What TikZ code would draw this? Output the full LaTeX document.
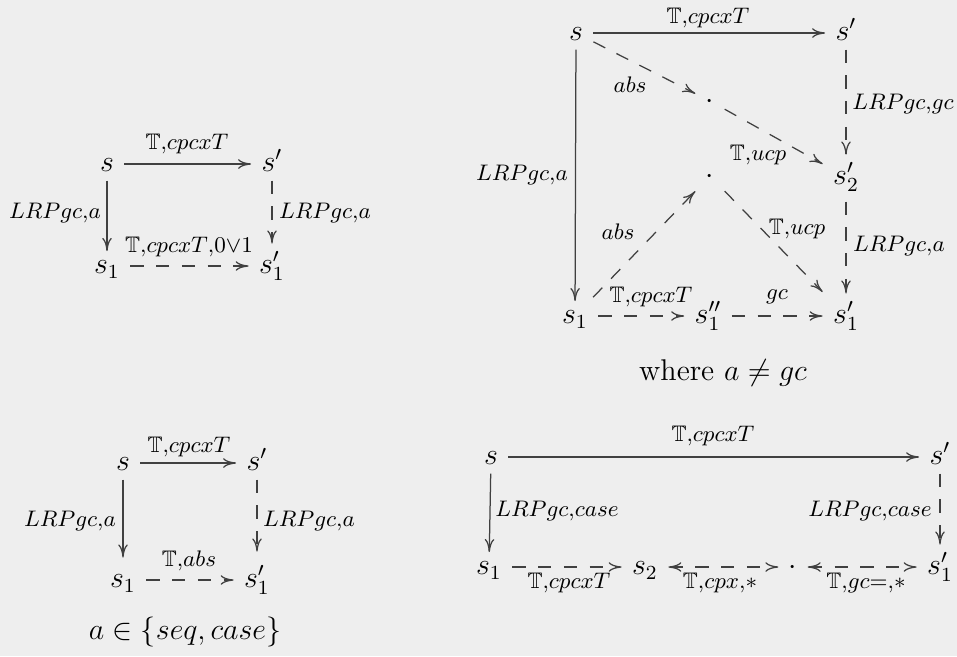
\documentclass[tikz,border=0pt]{standalone}
\usepackage{amssymb}
\usetikzlibrary{arrows.meta}
\definecolor{bg}{HTML}{EEEEEE}
\definecolor{ln}{HTML}{404040}
\begin{document}
\begin{tikzpicture}[x=0.4pt,y=-0.4pt,
  st/.style={inner sep=4pt, text height=9.6pt, text depth=3.6pt, font=\fontsize{12}{14}\selectfont},
  dt/.style={inner sep=4pt, text height=6pt, text depth=0pt, font=\fontsize{12}{14}\selectfont},
  lab/.style={inner sep=0pt, font=\fontsize{9}{11}\selectfont},
  captxt/.style={inner sep=0pt, font=\fontsize{12}{14}\selectfont},
  mytip/.tip={To[length=5.2pt,width=3.8pt]},
  ar/.style={draw=ln, line width=0.5pt, -mytip},
  da/.style={ar, dash pattern=on 5.3pt off 5pt},
  dda/.style={da, mytip-mytip},
  fromtop/.style={shorten <=-4.2pt},
  tolow/.style={shorten >=-4.8pt},
  toprim/.style={shorten >=-1.8pt},
]
\fill[bg] (0,0) rectangle (957,656);
\useasboundingbox (0,0) rectangle (957,656);

% ---------- diagram 1 ----------
\node[st] (a1) at (107,164) {$s$};
\node[st] (b1) at (272,164) {$s'$};
\node[st] (c1) at (107,266) {$s_1$};
\node[st] (d1) at (272,266) {$s'_1$};
\draw[ar] (a1) -- (b1);
\draw[ar,fromtop,tolow] (a1) -- (c1);
\draw[da,fromtop,toprim] (b1) -- (d1);
\draw[da] (c1) -- (d1);
\node[lab] (l1a) at (187,144) {$\mathbb{T}{,}cpcxT$};
\node[lab] (l1b) at (55,213) {$LRPgc{,}a$};
\node[lab] (l1c) at (325,213) {$LRPgc{,}a$};
\node[lab] (l1d) at (189,247) {$\mathbb{T}{,}cpcxT{,}0{\vee}1$};

% ---------- diagram 2 ----------
\node[st] (a2) at (576,33) {$s$};
\node[st] (b2) at (846,33) {$s'$};
\node[dt] (p1) at (710,101) {$\cdot$};
\node[st] (e2) at (846,177) {$s'_2$};
\node[dt] (p2) at (710,176) {$\cdot$};
\node[st] (c2) at (575,316) {$s_1$};
\node[st] (f2) at (708,316) {$s''_1$};
\node[st] (d2) at (846,316) {$s'_1$};
\draw[ar] (a2) -- (b2);
\draw[ar,fromtop,tolow] (a2) -- (c2);
\draw[da] (a2) -- (p1);
\draw[da] (p1) -- (e2);
\draw[da,fromtop,toprim] (b2) -- (e2);
\draw[da,shorten <=-1pt,toprim] (e2) -- (d2);
\draw[da,shorten <=-3pt] (c2) -- (p2);
\draw[da] (p2) -- (d2);
\draw[da] (c2) -- (f2);
\draw[da] (f2) -- (d2);
\node[lab] (l2a) at (708,18) {$\mathbb{T}{,}cpcxT$};
\node[lab] (l2b) at (630,85) {$abs$};
\node[lab] (l2c) at (522,175) {$LRPgc{,}a$};
\node[lab] (l2d) at (903,104) {$LRPgc{,}gc$};
\node[lab] (l2e) at (758,155) {$\mathbb{T}{,}ucp$};
\node[lab] (l2f) at (618,232) {$abs$};
\node[lab] (l2g) at (797,229) {$\mathbb{T}{,}ucp$};
\node[lab] (l2h) at (899,246) {$LRPgc{,}a$};
\node[lab] (l2i) at (651,297) {$\mathbb{T}{,}cpcxT$};
\node[lab] (l2j) at (777,297) {$gc$};
\node[captxt] (w2) at (723,373) {where $a \neq gc$};

% ---------- diagram 3 ----------
\node[st] (a3) at (123,463) {$s$};
\node[st] (b3) at (257,463) {$s'$};
\node[st] (c3) at (123,580) {$s_1$};
\node[st] (d3) at (257,580) {$s'_1$};
\draw[ar] (a3) -- (b3);
\draw[ar,fromtop,toprim] (a3) -- (c3);
\draw[da,fromtop,shorten >=0.6pt] (b3) -- (d3);
\draw[da] (c3) -- (d3);
\node[lab] (l3a) at (189,447) {$\mathbb{T}{,}cpcxT$};
\node[lab] (l3b) at (70,521) {$LRPgc{,}a$};
\node[lab] (l3c) at (309,521) {$LRPgc{,}a$};
\node[lab] (l3d) at (189,561) {$\mathbb{T}{,}abs$};
\node[captxt] (w3) at (185,632) {$a \in \{seq, case\}$};

% ---------- diagram 4 ----------
\node[st] (a4) at (491,457) {$s$};
\node[st] (b4) at (940,457) {$s'$};
\node[st] (c4) at (489,567) {$s_1$};
\node[st] (g4) at (645,567) {$s_2$};
\node[dt] (p3) at (793,567) {$\cdot$};
\node[st] (d4) at (940,567) {$s'_1$};
\draw[ar] (a4) -- (b4);
\draw[ar,fromtop,tolow] (a4) -- (c4);
\draw[da,fromtop,toprim] (b4) -- (d4);
\draw[da] (c4) -- (g4);
\draw[dda] (g4) -- (p3);
\draw[dda] (p3) -- (d4);
\node[lab] (l4a) at (713,436) {$\mathbb{T}{,}cpcxT$};
\node[lab] (l4b) at (557,511) {$LRPgc{,}case$};
\node[lab] (l4c) at (870,511) {$LRPgc{,}case$};
\node[lab] (l4d) at (569,583) {$\mathbb{T}{,}cpcxT$};
\node[lab] (l4e) at (720,583) {$\mathbb{T}{,}cpx{,}{\ast}$};
\node[lab] (l4f) at (866,583) {$\mathbb{T}{,}gc{=}{,}{\ast}$};
\end{tikzpicture}
\end{document}
